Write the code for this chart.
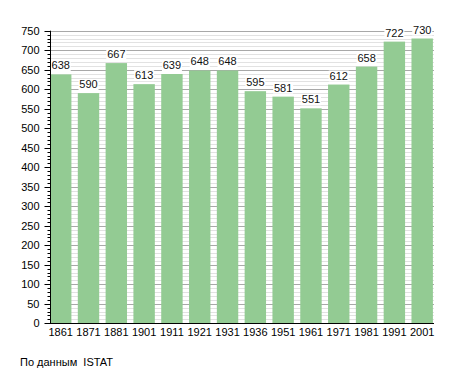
<!DOCTYPE html>
<html>
<head>
<meta charset="utf-8">
<script src="https://cdn.jsdelivr.net/npm/d3@7"></script>
<style>
  body { margin: 0; background: #fff; }
  text { font-family: "Liberation Sans", Arial, sans-serif; }
</style>
</head>
<body>
<div id="chart"></div>
<script>
// data
const years = ["1861", "1871", "1881", "1901", "1911", "1921", "1931", "1936", "1951", "1961", "1971", "1981", "1991", "2001"]
const population = [638, 590, 667, 613, 639, 648, 648, 595, 581, 551, 612, 658, 722, 730]
const yTicks = [0, 50, 100, 150, 200, 250, 300, 350, 400, 450, 500, 550, 600, 650, 700, 750]
const source = "По данным  ISTAT"

const width = 455
const height = 373
const margin = { left: 50, right: 21, top: 30.7, bottom: 49.7 }

const svg = d3
  .select("#chart")
  .append("svg")
  .attr("width", width)
  .attr("height", height)

const x = d3
  .scaleBand()
  .domain(years)
  .range([margin.left, width - margin.right])
  .paddingInner(0.23)
  .paddingOuter(0.02)
  .align(0)

const y = d3
  .scaleLinear()
  .domain([0, 750])
  .range([height - margin.bottom, margin.top])

// minor grid every 10
svg
  .append("g")
  .selectAll("line")
  .data(d3.range(10, 751, 10).filter((d) => d % 50 !== 0))
  .join("line")
  .attr("x1", margin.left)
  .attr("x2", width - margin.right)
  .attr("y1", (d) => Math.round(y(d)) + 0.5)
  .attr("y2", (d) => Math.round(y(d)) + 0.5)
  .attr("stroke", "#e2e2e2")

// major grid every 50
svg
  .append("g")
  .selectAll("line")
  .data(yTicks.slice(1))
  .join("line")
  .attr("x1", margin.left)
  .attr("x2", width - margin.right)
  .attr("y1", (d) => Math.round(y(d)) + 0.5)
  .attr("y2", (d) => Math.round(y(d)) + 0.5)
  .attr("stroke", "#a8a8a8")

// bars
svg
  .append("g")
  .selectAll("rect")
  .data(population)
  .join("rect")
  .attr("x", (d, i) => x(years[i]))
  .attr("y", (d) => y(d))
  .attr("width", x.bandwidth())
  .attr("height", (d) => y(0) - y(d))
  .attr("fill", "#93cb93")

// value labels with white box
const labels = svg
  .append("g")
  .selectAll("g")
  .data(population)
  .join("g")
  .attr("transform", (d, i) => `translate(${x(years[i]) + x.bandwidth() / 2},${y(d) - 5})`)

labels
  .append("rect")
  .attr("x", -10)
  .attr("y", -9)
  .attr("width", 20)
  .attr("height", 11)
  .attr("fill", "#fff")

labels
  .append("text")
  .attr("text-anchor", "middle")
  .style("font-size", "11px")
  .style("fill", "#111")
  .text((d) => d)

// y axis
const yAxis = svg
  .append("g")
  .attr("transform", `translate(${margin.left + 0.5},0)`)

yAxis
  .append("line")
  .attr("y1", y(0))
  .attr("y2", y(750))
  .attr("stroke", "#000")

yAxis
  .selectAll(".minor")
  .data(d3.range(0, 751, 10).filter((d) => d % 50 !== 0))
  .join("line")
  .attr("class", "minor")
  .attr("x1", -3)
  .attr("x2", 0)
  .attr("y1", (d) => Math.round(y(d)) + 0.5)
  .attr("y2", (d) => Math.round(y(d)) + 0.5)
  .attr("stroke", "#000")

yAxis
  .selectAll(".major")
  .data(yTicks)
  .join("line")
  .attr("class", "major")
  .attr("x1", -6)
  .attr("x2", 0)
  .attr("y1", (d) => Math.round(y(d)) + 0.5)
  .attr("y2", (d) => Math.round(y(d)) + 0.5)
  .attr("stroke", "#000")

yAxis
  .selectAll("text")
  .data(yTicks)
  .join("text")
  .attr("x", -11)
  .attr("y", (d) => y(d))
  .attr("dy", "0.36em")
  .attr("text-anchor", "end")
  .style("font-size", "11px")
  .text((d) => d)

// x axis
svg
  .append("line")
  .attr("x1", margin.left)
  .attr("x2", width - margin.right)
  .attr("y1", Math.round(y(0)) + 0.5)
  .attr("y2", Math.round(y(0)) + 0.5)
  .attr("stroke", "#000")

svg
  .append("g")
  .selectAll("text")
  .data(years)
  .join("text")
  .attr("x", (d) => x(d) + x.bandwidth() / 2)
  .attr("y", y(0) + 13)
  .attr("text-anchor", "middle")
  .style("font-size", "11px")
  .text((d) => d)

// source
svg
  .append("text")
  .attr("x", 20)
  .attr("y", 366)
  .style("font-size", "11px")
  .style("white-space", "pre")
  .text(source)
</script>
</body>
</html>
